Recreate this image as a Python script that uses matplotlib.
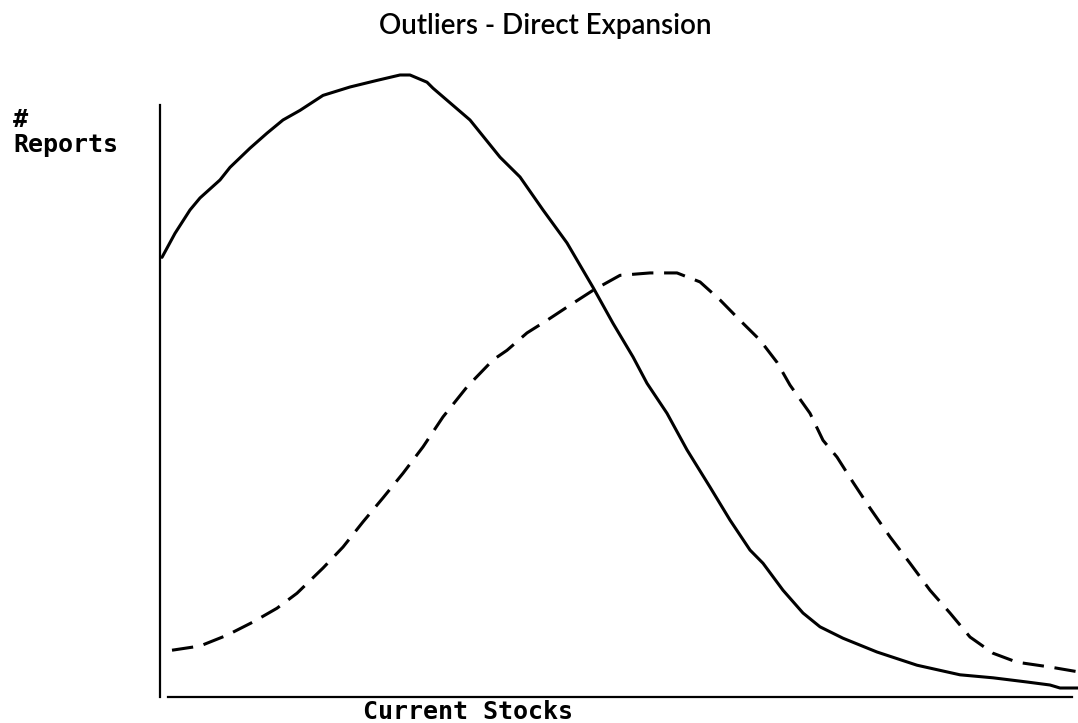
import matplotlib
matplotlib.use("Agg")
import matplotlib.pyplot as plt

# values (x: stock level, y: number of reports)
solid_x = [0.2, 1.5, 3.0, 4.0, 6.0, 7.0, 9.0, 10.7, 12.3, 14.0, 16.3, 19.0, 21.7, 24.0,
           25.0, 26.7, 27.3, 31.0, 34.0, 36.0, 38.3, 40.7, 43.3, 45.3, 47.3, 48.7, 50.7,
           52.7, 55.0, 57.0, 59.0, 60.3, 62.3, 64.3, 66.0, 68.3, 71.7, 75.7, 80.0, 83.3,
           86.7, 89.0, 90.0, 91.8]
solid_y = [73.3, 77.3, 81.2, 83.2, 86.2, 88.3, 91.5, 94.0, 96.2, 97.8, 100.3, 101.7, 102.8,
           103.7, 103.7, 102.5, 101.5, 96.2, 90.0, 86.7, 81.2, 75.7, 68.3, 62.3, 56.7, 52.3,
           47.3, 41.2, 35.0, 29.5, 24.5, 22.3, 17.8, 14.0, 11.7, 9.8, 7.5, 5.3, 3.7, 3.2,
           2.5, 2.0, 1.5, 1.5]

dash_x = [1.2, 4.0, 6.7, 9.3, 11.7, 13.7, 16.3, 18.3, 20.3, 22.3, 24.3, 26.3, 28.3, 30.7,
          33.3, 34.7, 36.7, 38.7, 40.7, 43.3, 46.0, 49.0, 51.7, 54.0, 56.0, 58.0, 60.0,
          61.7, 63.0, 65.0, 66.3, 67.7, 69.3, 71.0, 73.0, 75.0, 77.0, 79.0, 81.0, 83.3,
          85.7, 89.0, 91.8]
dash_y = [7.8, 8.5, 10.3, 12.5, 14.8, 17.3, 21.5, 25.0, 29.2, 33.2, 37.3, 41.7, 46.7, 51.7,
          56.2, 57.8, 60.7, 62.8, 65.0, 67.8, 70.3, 70.7, 70.7, 69.2, 66.2, 62.8, 59.5,
          55.8, 52.0, 47.3, 42.8, 40.0, 35.8, 31.5, 26.7, 22.3, 17.8, 14.0, 10.0, 7.3,
          5.8, 5.0, 4.2]

fig = plt.figure(figsize=(10.78, 7.23), dpi=100)
ax = fig.add_axes([160 / 1078, 26 / 723, 918 / 1078, 637 / 723])

ax.plot(solid_x, solid_y, color="black", lw=2.2, solid_capstyle="round")
ax.plot(dash_x, dash_y, color="black", lw=2.2, linestyle=(0, (7, 3.5)))

ax.set_xlim(0, 91.8)
ax.set_ylim(0, 106.2)
ax.spines["top"].set_visible(False)
ax.spines["right"].set_visible(False)
ax.spines["left"].set_linewidth(1.6)
ax.spines["bottom"].set_linewidth(1.6)
ax.spines["left"].set_bounds(0, 98.7)
ax.spines["bottom"].set_bounds(0.8, 91.2)
ax.set_xticks([])
ax.set_yticks([])

fig.text(545 / 1078, 1 - 26 / 723, "Outliers - Direct Expansion", ha="center", va="center",
         fontsize=20, family="Lato", fontweight="semibold")
fig.text(13 / 1078, 1 - 108 / 723, "#\nReports", ha="left", va="top", fontsize=18,
         family="DejaVu Sans Mono", fontweight="bold", linespacing=1.05)
fig.text(363 / 1078, 1 - 700 / 723, "Current Stocks", ha="left", va="top", fontsize=18,
         family="DejaVu Sans Mono", fontweight="bold")

fig.savefig("out.png", dpi=100)
